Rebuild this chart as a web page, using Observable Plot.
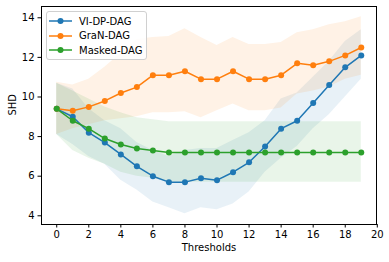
<!DOCTYPE html>
<html>
<head>
<meta charset="utf-8">
<script src="https://cdn.jsdelivr.net/npm/d3@7"></script>
<script src="https://cdn.jsdelivr.net/npm/@observablehq/plot@0.6"></script>
<style>
  html, body { margin: 0; padding: 0; background: #fff; }
  #wrap { position: relative; width: 389px; height: 262px; font-family: "DejaVu Sans", sans-serif; }
  #legend { position: absolute; left: 46px; top: 11px; width: 99px; height: 47px;
    border: 1px solid #d0d0d0; border-radius: 3px; background: rgba(255,255,255,0.85);
    font-size: 10px; color: #000; }
  .row { position: absolute; left: 0; height: 14px; display: flex; align-items: center; }
  .row svg { margin-left: 2px; }
  .row span { margin-left: 6px; }
</style>
</head>
<body>
<div id="wrap"></div>
<script>
const thresholds = [0,1,2,3,4,5,6,7,8,9,10,11,12,13,14,15,16,17,18,19];
const xTicks = [0,2,4,6,8,10,12,14,16,18,20];
const yTicks = [4,6,8,10,12,14];
const seriesNames = ["VI-DP-DAG", "GraN-DAG", "Masked-DAG"];
const seriesColors = ["#1f77b4", "#ff7f0e", "#2ca02c"];

const viMean = [9.4, 9.0, 8.2, 7.7, 7.1, 6.5, 6.0, 5.7, 5.7, 5.9, 5.8, 6.2, 6.7, 7.5, 8.4, 8.8, 9.7, 10.6, 11.5, 12.1];
const viLo   = [8.1, 7.6, 7.0, 6.6, 5.8, 5.3, 4.7, 4.4, 4.1, 4.4, 4.3, 4.6, 5.2, 6.2, 6.9, 7.5, 8.4, 9.1, 10.0, 10.9];
const viHi   = [10.7, 10.4, 9.4, 8.8, 8.4, 7.7, 7.3, 7.0, 7.3, 7.4, 7.4, 7.8, 8.2, 8.8, 9.9, 10.2, 11.0, 11.8, 12.8, 13.4];

const granMean = [9.4, 9.3, 9.5, 9.8, 10.2, 10.5, 11.1, 11.1, 11.3, 10.9, 10.9, 11.3, 10.9, 10.9, 11.1, 11.7, 11.6, 11.8, 12.1, 12.5];
const granLo   = [8.1, 8.4, 8.6, 8.8, 8.9, 9.0, 9.2, 9.2, 9.25, 8.95, 9.3, 9.65, 9.3, 9.3, 9.45, 10.15, 10.3, 10.5, 10.9, 11.1];
const granHi   = [10.75, 10.6, 10.9, 11.5, 12.2, 12.9, 13.0, 13.05, 13.45, 13.0, 12.6, 13.0, 12.65, 12.65, 12.75, 13.25, 13.4, 13.65, 13.8, 14.05];

const maskMean = [9.4, 8.8, 8.4, 7.9, 7.6, 7.4, 7.3, 7.2, 7.2, 7.2, 7.2, 7.2, 7.2, 7.2, 7.2, 7.2, 7.2, 7.2, 7.2, 7.2];
const maskLo   = [8.1, 7.3, 6.9, 6.6, 6.2, 6.0, 5.9, 5.7, 5.7, 5.7, 5.7, 5.7, 5.7, 5.7, 5.7, 5.7, 5.7, 5.7, 5.7, 5.7];
const maskHi   = [10.7, 10.3, 9.9, 9.5, 9.2, 8.95, 8.85, 8.75, 8.75, 8.75, 8.75, 8.75, 8.75, 8.75, 8.75, 8.75, 8.75, 8.75, 8.75, 8.75];

const means = [viMean, granMean, maskMean];
const los = [viLo, granLo, maskLo];
const his = [viHi, granHi, maskHi];

const tables = seriesNames.map((name, s) =>
  thresholds.map((t, i) => ({t, name, mean: means[s][i], lo: los[s][i], hi: his[s][i]}))
);

const marks = [];
tables.forEach((tab, s) => {
  marks.push(Plot.areaY(tab, {x: "t", y1: "lo", y2: "hi", fill: seriesColors[s], fillOpacity: 0.1}));
});
tables.forEach((tab, s) => {
  marks.push(Plot.lineY(tab, {x: "t", y: "mean", stroke: seriesColors[s], strokeWidth: 1.5}));
  marks.push(Plot.dot(tab, {x: "t", y: "mean", fill: seriesColors[s], r: 3}));
});
marks.push(Plot.frame({stroke: "#000", strokeWidth: 1}));
marks.push(Plot.axisX({ticks: xTicks, tickSize: 3.5, tickPadding: 3, label: null, fontSize: 10, color: "#000"}));
marks.push(Plot.axisY({ticks: yTicks, tickSize: 3.5, tickPadding: 3.5, label: null, fontSize: 10, color: "#000"}));
marks.push(Plot.text(["Thresholds"], {frameAnchor: "bottom", dy: 26, text: d => d, fontSize: 10, fill: "#000"}));
marks.push(Plot.text(["SHD"], {frameAnchor: "left", dx: -29, rotate: -90, text: d => d, fontSize: 10, fill: "#000"}));

const chart = Plot.plot({
  width: 389, height: 262,
  marginLeft: 41, marginRight: 13, marginTop: 6, marginBottom: 38,
  style: {fontFamily: "DejaVu Sans, sans-serif", fontSize: "10px", color: "#000", background: "#fff"},
  x: {domain: [-0.95, 19.95]},
  y: {domain: [3.56, 14.57]},
  marks
});
const wrap = document.getElementById("wrap");
wrap.appendChild(chart);

const legend = document.createElement("div");
legend.id = "legend";
seriesNames.forEach((name, s) => {
  const row = document.createElement("div");
  row.className = "row";
  row.style.top = (2 + s * 14.7) + "px";
  row.innerHTML = `<svg width="24" height="10"><line x1="0" y1="5" x2="23" y2="5" stroke="${seriesColors[s]}" stroke-width="1.5"/><circle cx="11.5" cy="5" r="3" fill="${seriesColors[s]}"/></svg><span>${name}</span>`;
  legend.appendChild(row);
});
wrap.appendChild(legend);
</script>
</body>
</html>
